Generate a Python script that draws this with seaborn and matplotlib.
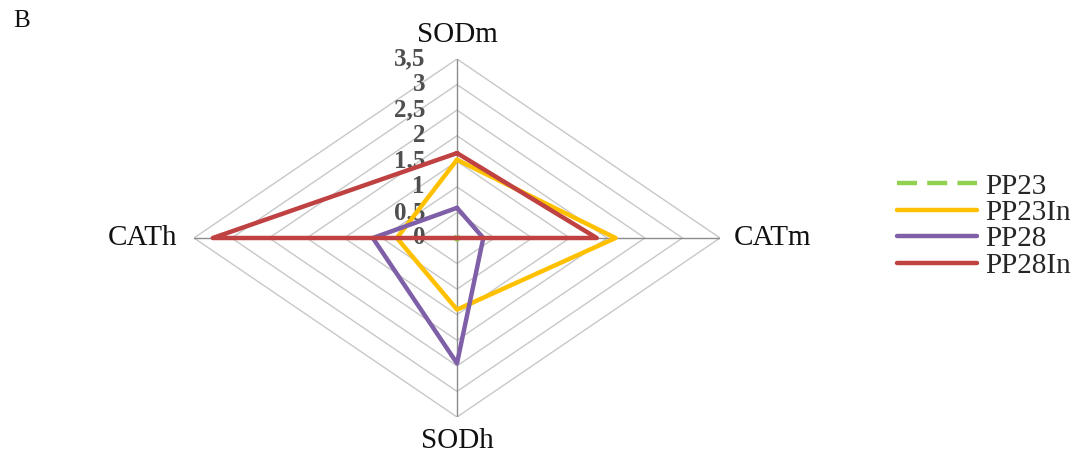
import numpy as np
import pandas as pd
import matplotlib
matplotlib.use("Agg")
import matplotlib.pyplot as plt
import seaborn as sns

# Radar data
axes_labels = ["SODm", "CATm", "SODh", "CATh"]
pp23 = [0.03, 0.03, 0.03, 0.03]
pp23in = [1.53, 2.11, 1.40, 0.80]
pp28 = [0.59, 0.35, 2.45, 1.12]
pp28in = [1.66, 1.86, 0.0, 3.25]
series_names = ["PP23", "PP23In", "PP28", "PP28In"]
series_values = [pp23, pp23in, pp28, pp28in]
tick_values = [0, 0.5, 1, 1.5, 2, 2.5, 3, 3.5]
tick_labels = ["0", "0,5", "1", "1,5", "2", "2,5", "3", "3,5"]
rmax = 3.5

colors = {"PP23": "#92D050", "PP23In": "#FFC000", "PP28": "#7F60A8", "PP28In": "#BF4141"}
styles = {"PP23": (0, (4.5, 2.3)), "PP23In": "-", "PP28": "-", "PP28In": "-"}

# Angles: SODm top, CATm right, SODh bottom, CATh left (clockwise)
angles = np.pi / 2 - np.arange(len(axes_labels)) * 2 * np.pi / len(axes_labels)

sns.set_style("white")
plt.rcParams["font.family"] = ["Liberation Serif", "DejaVu Serif"]

fig = plt.figure(figsize=(10.92, 4.55), dpi=100)
ax = fig.add_axes([194 / 1092, 38 / 455, 526 / 1092, 358 / 455])
ax.set_xlim(-rmax, rmax)
ax.set_ylim(-rmax, rmax)
ax.axis("off")

# Grid diamonds
ca = np.append(np.cos(angles), np.cos(angles[0]))
sa = np.append(np.sin(angles), np.sin(angles[0]))
for r in tick_values[1:]:
    ax.plot(r * ca, r * sa, color="#C8C8C8", lw=1.0, zorder=1)
# Spokes
for a in angles:
    ax.plot([0, rmax * np.cos(a)], [0, rmax * np.sin(a)], color="#8C8C8C", lw=1.0, zorder=1)

# Series
rows = []
for name, vals in zip(series_names, series_values):
    v = np.append(vals, vals[0])
    for i, (val, c, s) in enumerate(zip(v, ca, sa)):
        rows.append({"series": name, "order": i, "x": val * c, "y": val * s})
df = pd.DataFrame(rows)

handles = []
for name in series_names:
    sub = df[df["series"] == name]
    sns.lineplot(data=sub, x="x", y="y", sort=False, estimator=None, ax=ax,
                 color=colors[name], lw=3.2, zorder=3 if name != "PP23" else 2,
                 legend=False)
    ax.lines[-1].set_linestyle(styles[name])
    h, = ax.plot([], [], color=colors[name], lw=3.2, linestyle=styles[name], label=name)
    handles.append(h)

# Radial tick labels along the top spoke
for t, lab in zip(tick_values, tick_labels):
    ax.annotate(lab, xy=(0, t), xytext=(-32, 0), textcoords="offset pixels",
                ha="right", va="center", fontsize=18, fontweight="bold",
                color="#4F4F4F", zorder=2)

# Axis labels
label_offsets = [(0, 8, "center", "bottom"), (10, 0, "left", "center"),
                 (0, -8, "center", "top"), (-12, 0, "right", "center")]
for lab, a, (dx, dy, ha, va) in zip(axes_labels, angles, label_offsets):
    ax.annotate(lab, xy=(rmax * np.cos(a), rmax * np.sin(a)), xytext=(dx, dy),
                textcoords="offset points", ha=ha, va=va, fontsize=21, color="#111111")

fig.text(13 / 1092, 1 - 21 / 455, "B", fontsize=18, ha="left", va="center", color="#111111")

fig.legend(handles=handles, loc="center left", bbox_to_anchor=(885 / 1092, 1 - 226 / 455),
           frameon=False, fontsize=21, handlelength=2.75, handletextpad=0.3,
           labelspacing=0.0, borderaxespad=0)

fig.savefig("out.png", dpi=100)
